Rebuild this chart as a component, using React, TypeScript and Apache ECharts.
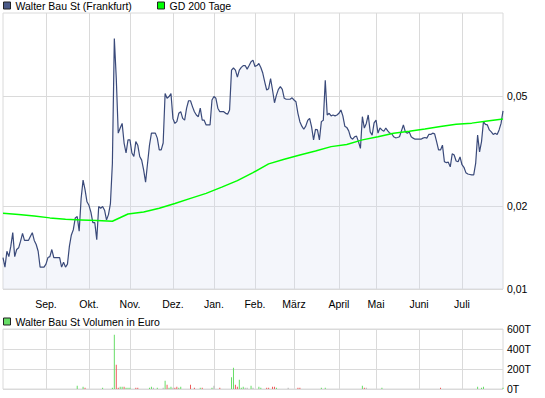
import React, { useEffect, useRef } from 'react';
import * as echarts from 'echarts';

const PRICE_NAME = 'Walter Bau St (Frankfurt)';
const MA_NAME = 'GD 200 Tage';
const VOL_NAME = 'Walter Bau St Volumen in Euro';

// Trading calendar (Frankfurt), Aug 2010 - Aug 1 2011
const HOLIDAYS = ['2010-12-24', '2010-12-31', '2011-04-22', '2011-04-25'];
function tradingDays(start: string, end: string): string[] {
  const out: string[] = [];
  const d = new Date(start + 'T00:00:00Z');
  const e = new Date(end + 'T00:00:00Z');
  while (d <= e) {
    const wd = d.getUTCDay();
    const s = d.toISOString().slice(0, 10);
    if (wd !== 0 && wd !== 6 && HOLIDAYS.indexOf(s) < 0) out.push(s);
    d.setUTCDate(d.getUTCDate() + 1);
  }
  return out;
}
const dates = tradingDays('2010-08-02', '2011-08-01');

const MONTH_LABELS: Record<string, string> = {
  '09': 'Sep.', '10': 'Okt.', '11': 'Nov.', '12': 'Dez.', '01': 'Jan.', '02': 'Feb.',
  '03': 'März', '04': 'April', '05': 'Mai', '06': 'Juni', '07': 'Juli', '08': 'Aug.',
};

// Daily closing prices (EUR), one array per month
const priceAug = [0.0130, 0.0120, 0.0137, 0.0131, 0.0143, 0.0160, 0.0131, 0.0139, 0.0141, 0.0149, 0.0159, 0.0150, 0.0150, 0.0150, 0.0155, 0.0160, 0.0150, 0.0145, 0.0137, 0.0120, 0.0120, 0.0120];
const priceSep = [0.0123, 0.0130, 0.0131, 0.0139, 0.0130, 0.0130, 0.0130, 0.0130, 0.0120, 0.0125, 0.0120, 0.0123, 0.0143, 0.0157, 0.0164, 0.0181, 0.0183, 0.0162, 0.0213, 0.0248, 0.0229, 0.0207];
const priceOkt = [0.0201, 0.0190, 0.0174, 0.0174, 0.0151, 0.0199, 0.0196, 0.0199, 0.0193, 0.0178, 0.0186, 0.0204, 0.0285, 0.0808, 0.0579, 0.0367, 0.0383, 0.0398, 0.0338, 0.0311, 0.0347];
const priceNov = [0.0347, 0.0311, 0.0302, 0.0342, 0.0332, 0.0302, 0.0293, 0.0270, 0.0244, 0.0285, 0.0332, 0.0367, 0.0367, 0.0367, 0.0352, 0.0319, 0.0319, 0.0338, 0.0511, 0.0491, 0.0498, 0.0511];
const priceDez = [0.0415, 0.0398, 0.0404, 0.0433, 0.0439, 0.0415, 0.0409, 0.0452, 0.0481, 0.0481, 0.0458, 0.0439, 0.0427, 0.0421, 0.0452, 0.0409, 0.0409, 0.0393, 0.0393, 0.0393, 0.0484];
const priceJan = [0.0498, 0.0491, 0.0452, 0.0439, 0.0439, 0.0439, 0.0433, 0.0430, 0.0445, 0.0621, 0.0632, 0.0621, 0.0586, 0.0621, 0.0635, 0.0645, 0.0645, 0.0626, 0.0645, 0.0666, 0.0675];
const priceFeb = [0.0640, 0.0645, 0.0656, 0.0635, 0.0606, 0.0563, 0.0526, 0.0532, 0.0579, 0.0526, 0.0473, 0.0504, 0.0529, 0.0541, 0.0529, 0.0491, 0.0487, 0.0487, 0.0487, 0.0493];
const priceMar = [0.0484, 0.0477, 0.0433, 0.0404, 0.0389, 0.0379, 0.0389, 0.0408, 0.0415, 0.0387, 0.0347, 0.0379, 0.0377, 0.0347, 0.0404, 0.0409, 0.0571, 0.0427, 0.0433, 0.0424, 0.0427, 0.0424, 0.0427];
const priceApr = [0.0433, 0.0445, 0.0424, 0.0389, 0.0385, 0.0374, 0.0354, 0.0349, 0.0356, 0.0358, 0.0342, 0.0323, 0.0421, 0.0383, 0.0398, 0.0427, 0.0371, 0.0361, 0.0400];
const priceMai = [0.0409, 0.0367, 0.0383, 0.0377, 0.0373, 0.0383, 0.0374, 0.0367, 0.0366, 0.0356, 0.0353, 0.0354, 0.0356, 0.0374, 0.0393, 0.0371, 0.0367, 0.0371, 0.0356, 0.0352, 0.0349, 0.0349];
const priceJun = [0.0349, 0.0349, 0.0352, 0.0354, 0.0352, 0.0363, 0.0363, 0.0367, 0.0365, 0.0342, 0.0319, 0.0319, 0.0332, 0.0289, 0.0287, 0.0288, 0.0277, 0.0309, 0.0306, 0.0291, 0.0289, 0.0301];
const priceJul = [0.0282, 0.0276, 0.0264, 0.0261, 0.0260, 0.0259, 0.0259, 0.0285, 0.0361, 0.0314, 0.0342, 0.0404, 0.0395, 0.0393, 0.0377, 0.0371, 0.0363, 0.0367, 0.0363, 0.0377, 0.0398];
const priceAug2 = [0.0442];
const prices = [
  ...priceAug, ...priceSep, ...priceOkt, ...priceNov, ...priceDez, ...priceJan,
  ...priceFeb, ...priceMar, ...priceApr, ...priceMai, ...priceJun, ...priceJul, ...priceAug2,
];

// GD 200 (200-day average) read at every 8th trading day
const maIdx = [0, 8, 16, 24, 32, 40, 48, 56, 64, 72, 80, 88, 96, 104, 112, 120, 128, 136, 144, 152, 160, 168, 176, 184, 192, 200, 208, 216, 224, 232, 240, 248, 256];
const maVal = [0.0188, 0.0186, 0.0184, 0.0181, 0.0179, 0.0178, 0.0177, 0.0176, 0.0187, 0.0190, 0.0196, 0.0204, 0.0213, 0.0222, 0.0234, 0.0247, 0.0264, 0.0284, 0.0295, 0.0306, 0.0316, 0.0328, 0.0334, 0.0347, 0.0356, 0.0367, 0.0373, 0.0380, 0.0388, 0.0395, 0.0399, 0.0406, 0.0413];

// Volume (thousand EUR): trading-day index, value, direction (u up, d down, n unchanged)
const volIdx = [38, 41, 42, 51, 56, 57, 58, 59, 60, 61, 62, 63, 64, 65, 68, 69, 75, 76, 77, 79, 82, 83, 84, 85, 86, 87, 88, 89, 90, 91, 96, 98, 101, 102, 107, 108, 111, 117, 118, 119, 120, 121, 122, 123, 124, 125, 127, 128, 131, 132, 135, 136, 138, 139, 140, 146, 151, 152, 163, 165, 184, 185, 186, 194, 224, 243, 245, 246, 256];
const volVal = [33, 23, 13, 13, 13, 543, 243, 13, 23, 23, 23, 13, 13, 13, 13, 13, 13, 23, 13, 13, 13, 83, 43, 13, 23, 13, 13, 23, 13, 23, 43, 13, 13, 13, 13, 33, 13, 117, 213, 43, 23, 93, 13, 23, 13, 13, 33, 13, 23, 13, 13, 13, 23, 23, 13, 13, 13, 13, 13, 13, 33, 13, 13, 13, 13, 23, 13, 23, 13];
const volDir = ['u', 'u', 'd', 'u', 'u', 'u', 'd', 'd', 'u', 'u', 'd', 'u', 'u', 'u', 'd', 'd', 'u', 'u', 'n', 'u', 'n', 'u', 'd', 'u', 'u', 'n', 'd', 'd', 'u', 'u', 'd', 'd', 'u', 'd', 'u', 'n', 'd', 'u', 'u', 'd', 'd', 'u', 'u', 'u', 'n', 'n', 'u', 'n', 'u', 'u', 'd', 'd', 'd', 'd', 'u', 'n', 'd', 'd', 'u', 'u', 'u', 'd', 'n', 'u', 'd', 'u', 'u', 'u', 'u'];

// Price axis tick labels
const priceTicks = [0.01, 0.02, 0.05];
const volTicks = [0, 200, 400, 600];

const FONT = "'Liberation Sans', Arial, Helvetica, sans-serif";
const GRID_COLOR = '#dadada';
const DIR_COLORS: Record<string, string> = { u: '#66dd66', d: '#ee5c5c', n: '#b4b4b4' };

const monthStarts = new Set<number>();
dates.forEach((d, i) => {
  if (i > 0 && i < dates.length - 1 && d.slice(5, 7) !== dates[i - 1].slice(5, 7)) monthStarts.add(i);
});
const isMonthStart = (i: number) => monthStarts.has(i);
const logTicks = priceTicks.map((p) => Math.log10(p));

function buildOption(): any {
  const labelStyle = { fontFamily: FONT, fontSize: 10.5, color: '#000' };
  const legendBase = {
    padding: 0,
    itemWidth: 7,
    itemHeight: 7,
    icon: 'rect',
    selectedMode: false,
    textStyle: labelStyle,
  };
  const splitX = { show: true, interval: (i: number) => isMonthStart(i), lineStyle: { color: GRID_COLOR, width: 1 } };
  return {
    animation: false,
    textStyle: { fontFamily: FONT },
    legend: [
      { ...legendBase, left: 3, top: 0, data: [{ name: PRICE_NAME, itemStyle: { color: '#4a5a88', borderColor: '#222', borderWidth: 1 } }] },
      { ...legendBase, left: 157, top: 0, data: [{ name: MA_NAME, itemStyle: { color: '#00ff00', borderColor: '#222', borderWidth: 1 } }] },
      { ...legendBase, left: 3, top: 316, data: [{ name: VOL_NAME, itemStyle: { color: '#66dd66', borderColor: '#222', borderWidth: 1 } }] },
    ],
    grid: [
      { left: 3, top: 13, width: 500, height: 276, show: true, borderColor: GRID_COLOR, borderWidth: 1, outerBoundsMode: 'none', containLabel: false },
      { left: 3, top: 329, width: 500, height: 60, show: true, borderColor: GRID_COLOR, borderWidth: 1, outerBoundsMode: 'none', containLabel: false },
    ],
    xAxis: [
      {
        type: 'category', gridIndex: 0, data: dates, boundaryGap: false,
        axisLine: { show: false }, axisTick: { show: false },
        axisLabel: {
          ...labelStyle, margin: 9,
          interval: (i: number) => isMonthStart(i),
          formatter: (v: string) => MONTH_LABELS[v.slice(5, 7)],
        },
        splitLine: splitX,
      },
      {
        type: 'category', gridIndex: 1, data: dates, boundaryGap: false,
        axisLine: { show: false }, axisTick: { show: false }, axisLabel: { show: false },
        splitLine: splitX,
      },
    ],
    yAxis: [
      {
        type: 'value', gridIndex: 0, position: 'right', min: -2, max: -1,
        axisLine: { show: false },
        axisTick: { show: false, customValues: logTicks },
        axisLabel: {
          ...labelStyle, margin: 4, customValues: logTicks,
          formatter: (v: number) => Math.pow(10, v).toFixed(2).replace('.', ','),
        },
        splitLine: { show: true, lineStyle: { color: GRID_COLOR, width: 1 } },
      },
      {
        type: 'value', gridIndex: 1, position: 'right', min: volTicks[0], max: volTicks[volTicks.length - 1], interval: 200,
        axisLine: { show: false }, axisTick: { show: false },
        axisLabel: { ...labelStyle, margin: 4, formatter: '{value}T' },
        splitLine: { show: true, lineStyle: { color: GRID_COLOR, width: 1 } },
      },
    ],
    series: [
      {
        name: PRICE_NAME, type: 'line', xAxisIndex: 0, yAxisIndex: 0,
        data: prices.map((p) => Math.log10(p)),
        symbol: 'none', showSymbol: false,
        lineStyle: { color: '#3a4a7a', width: 1.2 },
        itemStyle: { color: '#4a5a88' },
        areaStyle: { color: 'rgba(215,222,240,0.4)', origin: 'start' },
        z: 2,
      },
      {
        name: MA_NAME, type: 'line', xAxisIndex: 0, yAxisIndex: 0,
        data: maIdx.map((i, k) => [i, Math.log10(maVal[k])]),
        symbol: 'none', showSymbol: false,
        lineStyle: { color: '#00ff00', width: 1.5 },
        itemStyle: { color: '#00ff00' },
        z: 3,
      },
      {
        name: VOL_NAME, type: 'bar', xAxisIndex: 1, yAxisIndex: 1, barWidth: 1,
        itemStyle: { color: '#66dd66' },
        data: volIdx.map((i, k) => ({ value: [i, volVal[k]], itemStyle: { color: DIR_COLORS[volDir[k]] } })),
      },
    ],
  };
}

export default function App() {
  const ref = useRef<HTMLDivElement>(null);
  useEffect(() => {
    document.body.style.margin = '0';
    const chart = echarts.init(ref.current!, null, { renderer: 'svg' });
    chart.setOption(buildOption());
    return () => chart.dispose();
  }, []);
  return <div ref={ref} style={{ position: 'absolute', left: 0, top: 0, width: 545, height: 398 }} />;
}
